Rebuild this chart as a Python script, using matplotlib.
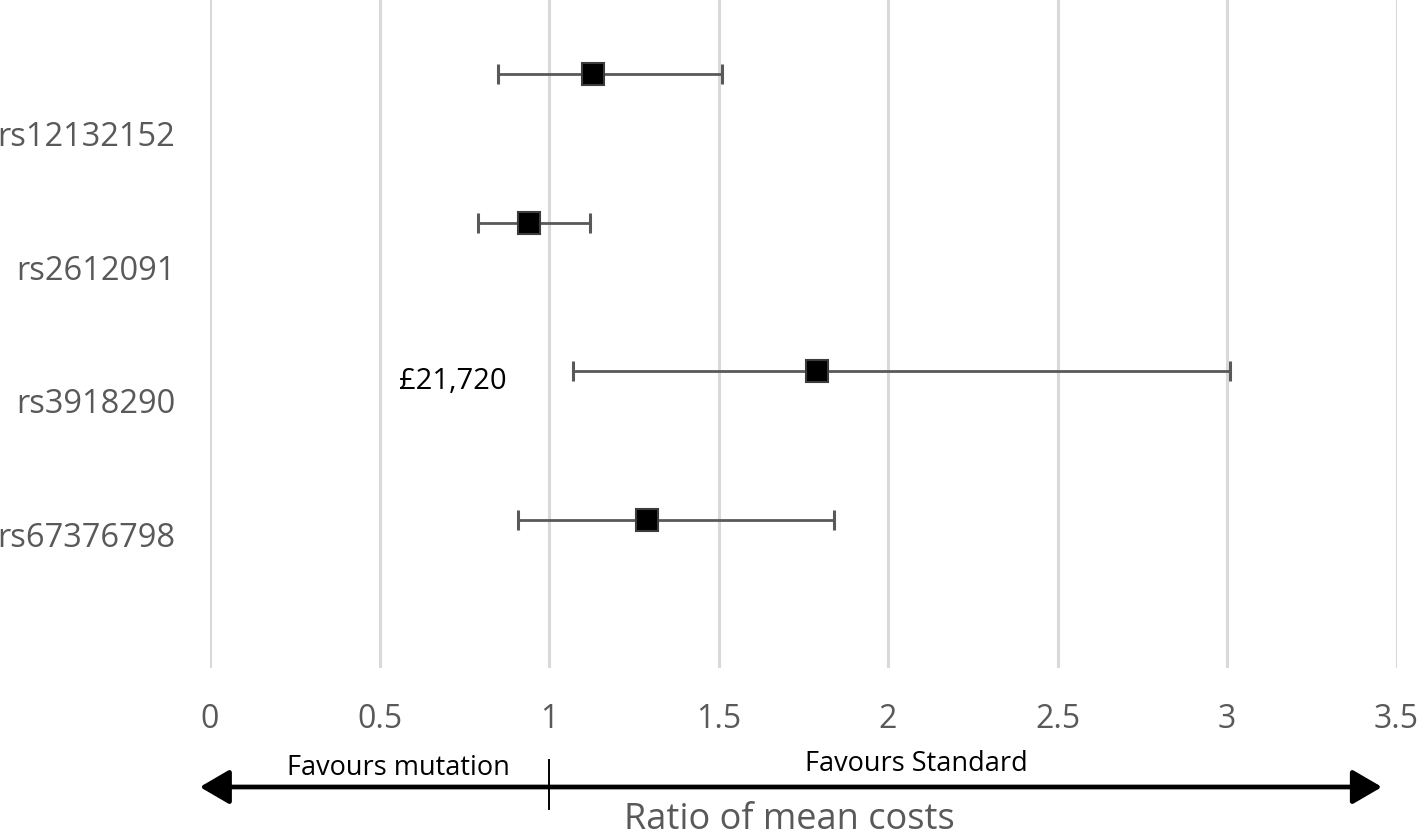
import matplotlib
matplotlib.use("Agg")
import matplotlib.pyplot as plt

# ---- data ----
snps = ["rs12132152", "rs2612091", "rs3918290", "rs67376798"]
ratio = [1.13, 0.94, 1.79, 1.29]
ci_low = [0.85, 0.79, 1.07, 0.91]
ci_high = [1.51, 1.12, 3.01, 1.84]
y_pos = [4, 3, 2, 1]
label_pos = [3.6, 2.7, 1.8, 0.9]
xticks = [0, 0.5, 1, 1.5, 2, 2.5, 3, 3.5]
xtick_labels = ["0", "0.5", "1", "1.5", "2", "2.5", "3", "3.5"]
annot_text = "£21,720"
annot_xy = (0.715, 1.93)
left_label = "Favours mutation"
right_label = "Favours Standard"
xlabel = "Ratio of mean costs"

plt.rcParams['font.family'] = ['Open Sans', 'DejaVu Sans']
GRAY = "#595959"

fig = plt.figure(figsize=(14.21, 8.36), dpi=100)
ax = fig.add_axes([210/1421, (836-668)/836, (1396.5-210)/1421, 668/836])

ax.set_xlim(0, 3.5)
ax.set_ylim(0, 4.5)
for x in xticks:
    ax.axvline(x, color="#d9d9d9", lw=2.2, zorder=0)

err_lo = [r - l for r, l in zip(ratio, ci_low)]
err_hi = [h - r for r, h in zip(ratio, ci_high)]
ax.errorbar(ratio, y_pos, xerr=[err_lo, err_hi], fmt='none', ecolor=GRAY,
            elinewidth=2.0, capsize=7, capthick=2.2, zorder=2)
ax.plot(ratio, y_pos, 's', color='black', markersize=16.5,
        markeredgecolor='#3c3c3c', markeredgewidth=1.5, zorder=3)

ax.text(annot_xy[0], annot_xy[1], annot_text, fontsize=21, color='black',
        ha='center', va='center')

for s in ax.spines.values():
    s.set_visible(False)

ax.set_xticks(xticks)
ax.set_xticklabels(xtick_labels, fontsize=23, color=GRAY)
ax.set_yticks(label_pos)
ax.set_yticklabels(snps, fontsize=23.5, color=GRAY)
ax.tick_params(axis='both', length=0)
ax.tick_params(axis='x', pad=25)
ax.tick_params(axis='y', pad=25)

trans = ax.get_xaxis_transform()
arrow_y = (668 - 787) / 668
ax.annotate("", xy=(-0.03, arrow_y), xytext=(3.457, arrow_y), xycoords=trans,
            textcoords=trans,
            arrowprops=dict(arrowstyle="<|-|>,head_length=1.8,head_width=1.05",
                            color='black', lw=3.4, shrinkA=0, shrinkB=0),
            annotation_clip=False)
ax.plot([1, 1], [(668-760)/668, (668-809)/668], color='black', lw=1.4,
        transform=trans, clip_on=False)
ax.text(0.555, (668-768)/668, left_label, transform=trans, fontsize=19.5,
        ha='center', va='center', color='black')
ax.text(2.085, (668-764)/668, right_label, transform=trans, fontsize=19.5,
        ha='center', va='center', color='black')
ax.text(1.71, (668-820)/668, xlabel, transform=trans, fontsize=26,
        ha='center', va='center', color=GRAY)

fig.savefig("out.png", dpi=100)
